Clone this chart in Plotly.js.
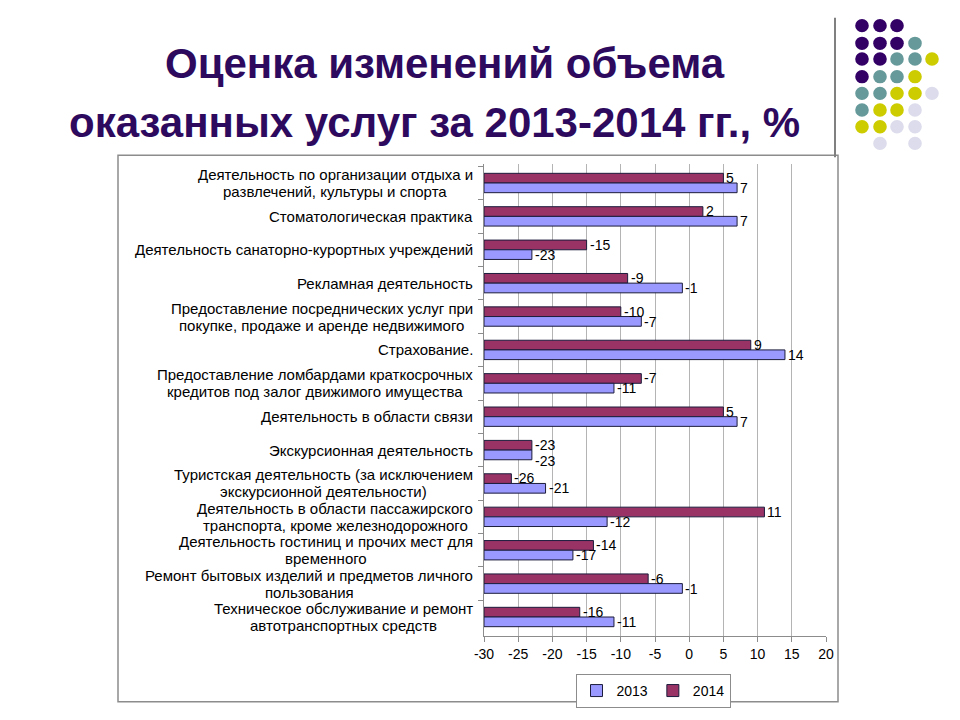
<!DOCTYPE html>
<html>
<head>
<meta charset="utf-8">
<script src="https://cdn.plot.ly/plotly-3.0.1.min.js"></script>
<style>html,body{margin:0;padding:0;background:#fff;}#chart{width:960px;height:720px;}</style>
</head>
<body>
<div id="chart"></div>
<script>
const categories = [
  'Деятельность по организации отдыха и<br>развлечений, культуры и спорта',
  'Стоматологическая практика',
  'Деятельность санаторно-курортных учреждений',
  'Рекламная деятельность',
  'Предоставление посреднических услуг при<br>покупке, продаже и аренде недвижимого ',
  'Страхование.',
  'Предоставление ломбардами краткосрочных<br>кредитов под залог движимого имущества',
  'Деятельность в области связи',
  'Экскурсионная деятельность',
  'Туристская деятельность (за исключением<br>экскурсионной деятельности)',
  'Деятельность в области пассажирского<br>транспорта, кроме железнодорожного ',
  'Деятельность гостиниц и прочих мест для<br>временного',
  'Ремонт бытовых изделий и предметов личного<br>пользования',
  'Техническое обслуживание и ремонт<br>автотранспортных средств'
];
const values2013 = [7, 7, -23, -1, -7, 14, -11, 7, -23, -21, -12, -17, -1, -11];
const values2014 = [5, 2, -15, -9, -10, 9, -7, 5, -23, -26, 11, -14, -6, -16];
const xTicks = [-30, -25, -20, -15, -10, -5, 0, 5, 10, 15, 20];
const AXIS_MIN = -30, AXIS_MAX = 20;

// plot area in pixels
const L = 484, R = 826, T = 164, B = 645;
const px = x => (x - L) / (R - L);
const py = y => (B - y) / (B - T);

const FONT = 'Liberation Sans, Arial, sans-serif';
const LABEL_SIZE = 15;

function barTrace(name, vals, color, rank) {
  return {
    type: 'bar', orientation: 'h', name: name,
    y: categories,
    x: vals.map(v => v - AXIS_MIN),
    base: AXIS_MIN,
    marker: {color: color, line: {color: '#1c1c3c', width: 1}},
    legendrank: rank,
    customdata: vals,
    hovertemplate: '%{customdata}<extra>' + name + '</extra>'
  };
}

const data = [
  barTrace('2014', values2014, '#993366', 2),
  barTrace('2013', values2013, '#9999FF', 1)
];

// decorative dots
const P = '#330066', Tl = '#669999', Y = '#CCCC00', Lv = '#DCDCEC';
const dotGrid = [
  [P, P, P, null, null],
  [P, P, P, Tl, null],
  [P, P, Tl, Tl, Y],
  [P, Tl, Tl, Y, null],
  [Tl, Tl, Y, Y, Lv],
  [Tl, Y, Y, Lv, null],
  [Y, Y, Lv, Lv, null],
  [null, Lv, null, Lv, null]
];
const dotX = [862, 880, 897, 915, 932];
const dotY = [23, 41, 57, 75, 92, 109, 126, 143];
const shapes = [];
dotGrid.forEach((row, r) => row.forEach((c, k) => {
  if (!c) return;
  const rad = 6.8;
  shapes.push({type: 'circle', xref: 'paper', yref: 'paper',
    x0: px(dotX[k] - rad), x1: px(dotX[k] + rad), y0: py(dotY[r] + rad), y1: py(dotY[r] - rad),
    fillcolor: c, line: {width: 0}, layer: 'above'});
}));
// vertical separator line
shapes.push({type: 'line', xref: 'paper', yref: 'paper', x0: px(835), x1: px(835), y0: py(15), y1: py(157),
  line: {color: '#808080', width: 2}});
// chart frame
shapes.push({type: 'rect', xref: 'paper', yref: 'paper', x0: px(118), x1: px(838), y0: py(712), y1: py(155),
  line: {color: '#8c8c8c', width: 1.5}, fillcolor: 'rgba(0,0,0,0)', layer: 'below'});

const titleFont = {family: FONT, size: 42, color: '#2E0A5E'};
const annotations = [
  {text: '<b>Оценка изменений объема</b>', xref: 'paper', yref: 'paper', x: px(445), y: py(62),
    xanchor: 'center', yanchor: 'middle', showarrow: false, font: titleFont},
  {text: '<b>оказанных услуг за 2013-2014 гг., %</b>', xref: 'paper', yref: 'paper', x: px(434), y: py(122),
    xanchor: 'center', yanchor: 'middle', showarrow: false, font: titleFont}
];

// value labels at the bar ends (2014 bar is the upper one of each pair)
const valFont = {family: FONT, size: 14, color: '#000'};
categories.forEach((c, i) => {
  const a = values2014[i], b = values2013[i];
  const clash = Math.abs(a - b) < 1.5;
  annotations.push({text: String(a), xref: 'x', yref: 'y', x: a, y: c, xanchor: 'left', yanchor: 'middle',
    xshift: 1, yshift: 5, showarrow: false, font: valFont});
  annotations.push({text: String(b), xref: 'x', yref: 'y', x: b, y: c, xanchor: 'left', yanchor: 'middle',
    xshift: 1, yshift: clash ? -11 : -5, showarrow: false, font: valFont});
});

// category labels: lines centred on each other, right edge near the axis, tight line spacing
const ctx = document.createElement('canvas').getContext('2d');
ctx.font = LABEL_SIZE + 'px "Liberation Sans", Arial, sans-serif';
const LABEL_RIGHT = 473, LINE_STEP = 17;
categories.forEach(c => {
  const lines = c.split('<br>');
  const widest = Math.max(...lines.map(s => ctx.measureText(s.trim()).width));
  const cx = LABEL_RIGHT - widest / 2;
  lines.forEach((s, i) => {
    annotations.push({text: s.trim(), xref: 'paper', yref: 'y', x: px(cx), y: c,
      yshift: -((i - (lines.length - 1) / 2) * LINE_STEP),
      xanchor: 'center', yanchor: 'middle', showarrow: false,
      font: {family: FONT, size: LABEL_SIZE, color: '#000'}});
  });
});

const layout = {
  width: 960, height: 720,
  margin: {l: L, r: 960 - R, t: T, b: 720 - B},
  paper_bgcolor: '#fff', plot_bgcolor: '#fff',
  barmode: 'group', bargap: 0.42, bargroupgap: 0,
  font: {family: FONT, size: 13, color: '#000'},
  xaxis: {
    range: [AXIS_MIN, AXIS_MAX], tickvals: xTicks, ticktext: xTicks.map(String),
    showgrid: true, gridcolor: '#b4b4b4', gridwidth: 1, zeroline: false,
    showline: true, linecolor: '#8c8c8c', ticks: 'outside', ticklen: 5, tickcolor: '#8c8c8c',
    tickfont: {size: 14, color: '#000'}, fixedrange: true
  },
  yaxis: {
    type: 'category', autorange: 'reversed', showgrid: false, zeroline: false,
    showline: true, linecolor: '#8c8c8c', ticks: 'outside', tickson: 'boundaries', ticklen: 5,
    tickcolor: '#8c8c8c', showticklabels: false, fixedrange: true
  },
  showlegend: true,
  legend: {orientation: 'h', x: px(653), y: py(701), xanchor: 'center', yanchor: 'middle',
    bordercolor: '#8c8c8c', borderwidth: 1, font: {size: 14}, itemwidth: 30, tracegroupgap: 0,
    itemclick: false},
  shapes: shapes,
  annotations: annotations
};

Plotly.newPlot('chart', data, layout, {displayModeBar: false, staticPlot: true});
</script>
</body>
</html>
